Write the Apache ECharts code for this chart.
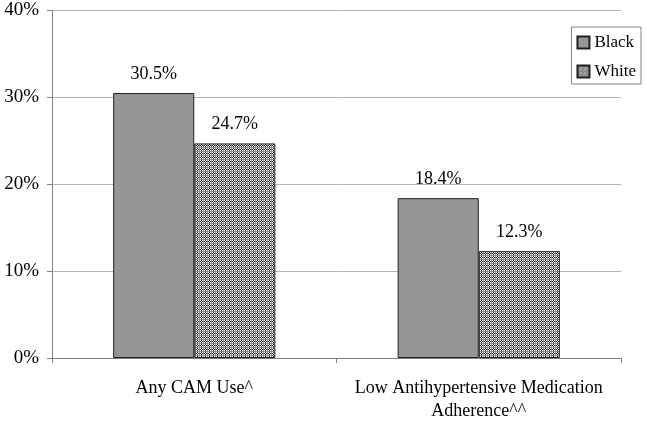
<!DOCTYPE html>
<html><head><meta charset="utf-8">
<script src="https://cdn.jsdelivr.net/npm/echarts@6/dist/echarts.min.js"></script>
<style>html,body{margin:0;padding:0;background:#fff}#c{width:647px;height:423px}</style>
</head><body><div id="c"></div>
<script>
const categories = ['Any CAM Use^', 'Low Antihypertensive Medication\nAdherence^^'];
const blackValues = [30.5, 18.4];
const whiteValues = [24.7, 12.3];
const yTicks = [0, 10, 20, 30, 40];

function makePattern() {
  const c = document.createElement('canvas');
  c.width = 4; c.height = 4;
  const ctx = c.getContext('2d');
  const W = '#ffffff', B = '#202020', G = '#8c8c8c';
  const rows = [[W,B,W,G],[B,W,B,G],[W,B,W,G],[G,G,G,G]];
  rows.forEach((r,y)=>r.forEach((col,x)=>{ctx.fillStyle=col;ctx.fillRect(x,y,1,1);}));
  return c;
}
const pattern = {image: makePattern(), repeat: 'repeat'};
const font = '"Liberation Serif", "Times New Roman", serif';

const chart = echarts.init(document.getElementById('c'));
chart.setOption({
  animation: false,
  textStyle: {fontFamily: font},
  grid: {left: 52, right: 26, top: 10.5, bottom: 65, containLabel: false},
  legend: {
    right: 6, top: 27, orient: 'vertical',
    itemWidth: 12, itemHeight: 12, itemGap: 12,
    padding: [7, 5, 4, 5],
    borderColor: '#808080', borderWidth: 1,
    textStyle: {fontFamily: font, fontSize: 17, color: '#000'},
    data: [{name: 'Black', icon: 'rect'}, {name: 'White', icon: 'rect'}]
  },
  xAxis: {
    type: 'category', data: categories,
    axisLine: {lineStyle: {color: '#808080', width: 1}},
    axisTick: {show: true, length: 5, lineStyle: {color: '#808080'}},
    axisLabel: {interval: 0, fontFamily: font, fontSize: 18, color: '#000', margin: 19, lineHeight: 23}
  },
  yAxis: {
    type: 'value', min: 0, max: 40, interval: 10,
    axisLine: {show: true, lineStyle: {color: '#808080'}},
    axisTick: {show: true, length: 5, lineStyle: {color: '#808080'}},
    splitLine: {lineStyle: {color: '#b4b4b4'}},
    axisLabel: {fontFamily: font, fontSize: 19, color: '#000', margin: 13,
      formatter: v => yTicks.includes(v) ? v + '%' : ''}
  },
  series: [
    {name: 'Black', type: 'bar', data: blackValues, barGap: '0%', barCategoryGap: '43%',
     itemStyle: {color: '#969696', borderColor: '#202020', borderWidth: 1},
     label: {show: true, position: 'top', distance: 10, fontFamily: font, fontSize: 18, color: '#000',
       formatter: p => p.value.toFixed(1) + '%'}},
    {name: 'White', type: 'bar', data: whiteValues,
     itemStyle: {color: pattern, borderColor: '#202020', borderWidth: 1},
     label: {show: true, position: 'top', distance: 10, fontFamily: font, fontSize: 18, color: '#000',
       formatter: p => p.value.toFixed(1) + '%'}}
  ]
});
</script></body></html>
